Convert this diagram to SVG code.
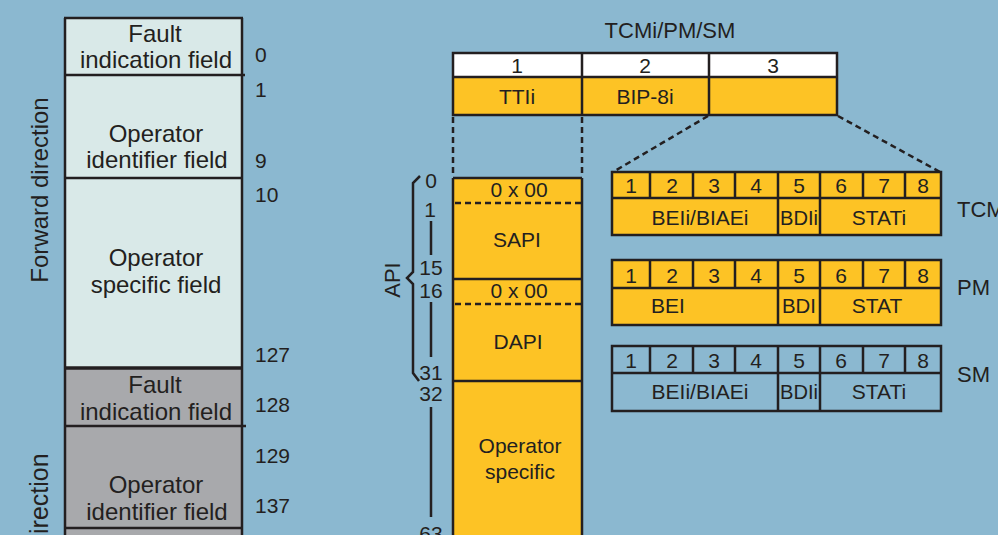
<svg xmlns="http://www.w3.org/2000/svg" width="998" height="535" viewBox="0 0 998 535">
<defs>
<style>
text{font-family:"Liberation Sans",Arial,sans-serif;fill:#231F20}
.t24{font-size:24px;text-anchor:middle}
.num{font-size:21px}
.c21{font-size:21px;text-anchor:middle}
.c20{font-size:20px;text-anchor:middle}
.ln{stroke:#231F20;stroke-width:2.5;fill:none}
.dash{stroke:#231F20;stroke-width:2.5;fill:none;stroke-dasharray:6 4}
.yel{fill:#FDC325}
.cell{stroke:#231F20;stroke-width:2.5}
</style>
</defs>
<rect x="0" y="0" width="998" height="535" fill="#8BB8D0"/>

<g id="left-column">
<rect x="65" y="18" width="177" height="350" fill="#D9E9E8"/>
<rect x="65" y="368" width="177" height="180" fill="#A8A9AC"/>
<path class="ln" d="M65 18 V548 M242 18 V548 M64 18 H243"/>
<path class="ln" d="M64 75 H245 M64 178 H243 M64 426 H246 M64 528 H243"/>
<path d="M64 368 H243" stroke="#231F20" stroke-width="3.5"/>
<text class="t24" x="155" y="42">Fault</text>
<text class="t24" x="156" y="68">indication field</text>
<text class="t24" x="156" y="142">Operator</text>
<text class="t24" x="157" y="168">identifier field</text>
<text class="t24" x="156" y="266">Operator</text>
<text class="t24" x="156" y="293">specific field</text>
<text class="t24" x="155" y="393">Fault</text>
<text class="t24" x="156" y="420">indication field</text>
<text class="t24" x="156" y="493">Operator</text>
<text class="t24" x="157" y="520">identifier field</text>
<text class="num" x="255" y="62">0</text>
<text class="num" x="255" y="97">1</text>
<text class="num" x="255" y="168">9</text>
<text class="num" x="255" y="202">10</text>
<text class="num" x="255" y="362">127</text>
<text class="num" x="255" y="412">128</text>
<text class="num" x="255" y="463">129</text>
<text class="num" x="255" y="513">137</text>
<text class="t24" transform="translate(48,190) rotate(-90)">Forward direction</text>
<text style="font-size:25px" transform="translate(48,534) rotate(-90)">irection</text>
</g>

<g id="header-table">
<text style="font-size:22px;text-anchor:middle" x="670" y="38">TCMi/PM/SM</text>
<rect x="453" y="53" width="384" height="24" fill="#FFFFFF"/>
<rect x="453" y="77" width="384" height="38" class="yel"/>
<path class="ln" d="M453 53 H837 V115 H453 Z M453 77 H837 M582 53 V115 M709 53 V115"/>
<text class="c21" x="517" y="73">1</text>
<text class="c21" x="645" y="73">2</text>
<text class="c21" x="773" y="73">3</text>
<text class="c21" x="517" y="104">TTIi</text>
<text class="c21" x="645" y="104">BIP-8i</text>
</g>

<g id="connectors">
<path class="dash" d="M453 117 V176 M582 117 V176"/>
<path class="dash" d="M708 116 L613 172 M838 116 L940 172"/>
</g>

<g id="ttii-column">
<rect x="453" y="178" width="129" height="370" class="yel"/>
<path class="ln" d="M453 178 V548 M582 178 V548 M453 178 H582 M453 279 H582 M453 381 H582"/>
<path class="dash" d="M455 203 H582 M455 304 H582"/>
<text class="c21" x="519" y="197">0 x 00</text>
<text class="c21" x="517" y="247">SAPI</text>
<text class="c21" x="519" y="298">0 x 00</text>
<text class="c21" x="518" y="349">DAPI</text>
<text class="c21" x="520" y="453">Operator</text>
<text class="c21" x="520" y="479">specific</text>
</g>

<g id="byte-index">
<text class="c21" x="431" y="188">0</text>
<text class="c21" x="430" y="217">1</text>
<text class="c21" x="431" y="275">15</text>
<text class="c21" x="431" y="298">16</text>
<text class="c21" x="431" y="380">31</text>
<text class="c21" x="431" y="401">32</text>
<text class="c21" x="431" y="541">63</text>
<path class="ln" d="M431 221 V255 M431 302 V357 M431 407 V517"/>
<path class="ln" d="M420 176 L413 183 V272 L407 278 L413 284 V373 L419 381"/>
<text style="font-size:22px;text-anchor:middle" transform="translate(400,280) rotate(-90)">API</text>
</g>

<g id="tcmi-bits">
<rect x="612" y="172" width="329" height="63" class="yel cell"/>
<path class="ln" d="M612 198 H941 M650 172 V198 M693 172 V198 M735 172 V198 M778 172 V235 M820 172 V235 M863 172 V198 M905 172 V198"/>
<text class="c21" x="631" y="193">1</text><text class="c21" x="672" y="193">2</text><text class="c21" x="714" y="193">3</text><text class="c21" x="756" y="193">4</text><text class="c21" x="799" y="193">5</text><text class="c21" x="841" y="193">6</text><text class="c21" x="884" y="193">7</text><text class="c21" x="923" y="193">8</text>
<text class="c21" x="700" y="225">BEIi/BIAEi</text>
<text class="c20" x="799" y="225" textLength="38" lengthAdjust="spacingAndGlyphs">BDIi</text>
<text class="c21" x="879" y="225">STATi</text>
<text style="font-size:22px" x="957" y="217">TCM</text>
</g>

<g id="pm-bits">
<rect x="612" y="260" width="329" height="65" class="yel cell"/>
<path class="ln" d="M612 288 H941 M650 260 V288 M693 260 V288 M735 260 V288 M778 260 V325 M820 260 V325 M863 260 V288 M905 260 V288"/>
<text class="c21" x="631" y="283">1</text><text class="c21" x="672" y="283">2</text><text class="c21" x="714" y="283">3</text><text class="c21" x="756" y="283">4</text><text class="c21" x="799" y="283">5</text><text class="c21" x="841" y="283">6</text><text class="c21" x="884" y="283">7</text><text class="c21" x="923" y="283">8</text>
<text class="c21" x="668" y="313">BEI</text>
<text class="c20" x="799" y="313" textLength="34" lengthAdjust="spacingAndGlyphs">BDI</text>
<text class="c21" x="877" y="313">STAT</text>
<text style="font-size:22px" x="957" y="295">PM</text>
</g>

<g id="sm-bits">
<rect x="612" y="346" width="329" height="65" fill="none" class="cell"/>
<path class="ln" d="M612 373 H941 M650 346 V373 M693 346 V373 M735 346 V373 M778 346 V411 M820 346 V411 M863 346 V373 M905 346 V373"/>
<text class="c21" x="631" y="368">1</text><text class="c21" x="672" y="368">2</text><text class="c21" x="714" y="368">3</text><text class="c21" x="756" y="368">4</text><text class="c21" x="799" y="368">5</text><text class="c21" x="841" y="368">6</text><text class="c21" x="884" y="368">7</text><text class="c21" x="923" y="368">8</text>
<text class="c21" x="700" y="399">BEIi/BIAEi</text>
<text class="c20" x="799" y="399" textLength="38" lengthAdjust="spacingAndGlyphs">BDIi</text>
<text class="c21" x="879" y="399">STATi</text>
<text style="font-size:22px" x="957" y="382">SM</text>
</g>
</svg>
